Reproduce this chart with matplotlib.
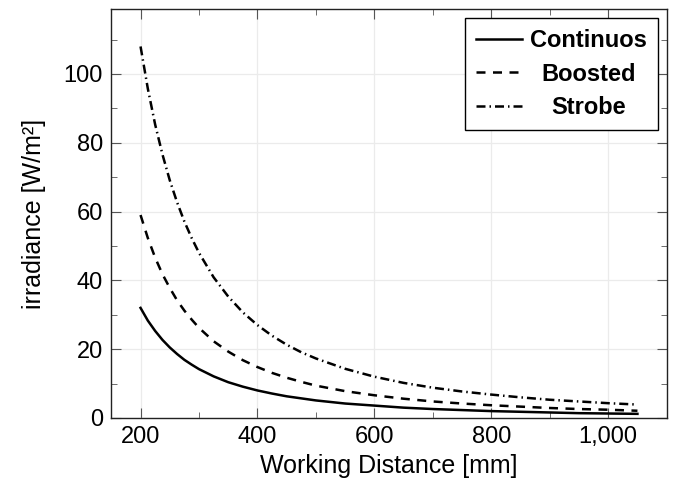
import numpy as np
import matplotlib
matplotlib.use("Agg")
import matplotlib.pyplot as plt
from matplotlib.ticker import MultipleLocator, FuncFormatter

plt.rcParams['font.family'] = ['Liberation Sans', 'DejaVu Sans']
plt.rcParams['font.size'] = 17

# working distance [mm] and irradiance [W/m^2]
distance = [200, 212.5, 225, 237.5, 250, 262.5, 275, 287.5, 300, 325, 350, 375, 400,
            425, 450, 475, 500, 550, 600, 650, 700, 750, 800, 850, 900, 950, 1000, 1050]
continuos = [32.0, 28.3, 25.3, 22.7, 20.5, 18.6, 16.9, 15.5, 14.2, 12.1, 10.4, 9.1, 8.0,
             7.1, 6.3, 5.7, 5.1, 4.2, 3.6, 3.0, 2.6, 2.3, 2.0, 1.8, 1.6, 1.4, 1.3, 1.2]
boosted = [59.0, 52.3, 46.6, 41.8, 37.8, 34.2, 31.2, 28.6, 26.2, 22.3, 19.3, 16.8, 14.8,
           13.1, 11.7, 10.5, 9.4, 7.8, 6.6, 5.6, 4.8, 4.2, 3.7, 3.3, 2.9, 2.6, 2.4, 2.1]
strobe = [108.0, 95.7, 85.3, 76.6, 69.1, 62.7, 57.1, 52.3, 48.0, 40.9, 35.3, 30.7, 27.0,
          23.9, 21.3, 19.1, 17.3, 14.3, 12.0, 10.2, 8.8, 7.7, 6.8, 6.0, 5.3, 4.8, 4.3, 3.9]

fig = plt.figure(figsize=(6.73, 4.95), dpi=100)
ax = fig.add_axes([0.1654, 0.1556, 0.9906 - 0.1654, 0.9812 - 0.1556])

ax.plot(distance, continuos, color='black', lw=1.8, label='Continuos')
ax.plot(distance, boosted, color='black', lw=1.8, dashes=(3.6, 3.0), label='Boosted')
ax.plot(distance, strobe, color='black', lw=1.8, dashes=(3.6, 1.6, 0.6, 1.6), label='Strobe')

ax.set_xlim(150, 1100)
ax.set_ylim(0, 118.8)
ax.xaxis.set_major_locator(MultipleLocator(200))
ax.xaxis.set_minor_locator(MultipleLocator(100))
ax.yaxis.set_major_locator(MultipleLocator(20))
ax.yaxis.set_minor_locator(MultipleLocator(10))
ax.xaxis.set_major_formatter(FuncFormatter(lambda v, p: f'{int(v):,}'))
ax.grid(True, which='major', color='#ebebeb', lw=0.9)
ax.set_axisbelow(True)
ax.tick_params(which='both', direction='in', top=True, right=True, color='#555555')
ax.tick_params(which='major', length=7, width=0.8, pad=6)
ax.tick_params(which='minor', length=4, width=0.6)
for s in ax.spines.values():
    s.set_linewidth(1.0)
    s.set_color('#222222')

ax.set_xlabel('Working Distance [mm]', labelpad=4, fontsize=18)
ax.set_ylabel('irradiance [W/m²]', labelpad=13, fontsize=18)

leg = ax.legend(loc='upper right', fancybox=False, framealpha=1, edgecolor='black',
                borderaxespad=0.38, handlelength=1.95, handletextpad=0.35,
                prop={'weight': 'bold', 'size': 17},
                borderpad=0.45, labelspacing=0.45)
leg.get_frame().set_linewidth(1.0)

# centre the legend labels like the original
renderer = fig.canvas.get_renderer()
widths = [t.get_window_extent(renderer).width for t in leg.get_texts()]
widest = max(widths)
for t, w in zip(leg.get_texts(), widths):
    t.set_position(((widest - w) / 2, 0))

fig.savefig('out.png', dpi=100)
